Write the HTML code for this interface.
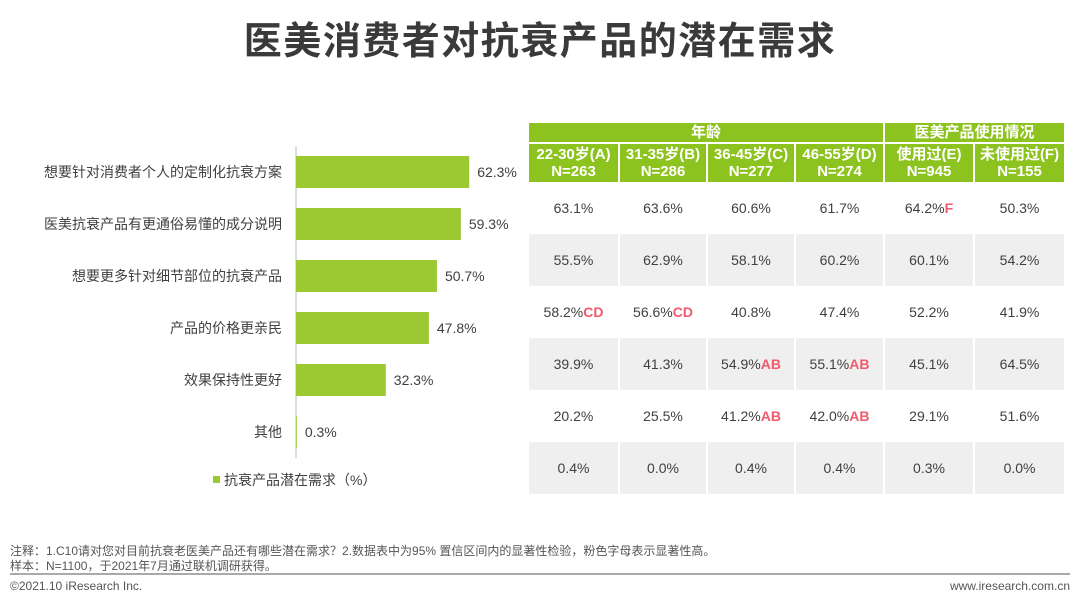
<!DOCTYPE html>
<html><head><meta charset="utf-8"><style>
body{margin:0;width:1080px;height:608px;background:#fff;font-family:"Liberation Sans","Noto Sans CJK SC",sans-serif;position:relative;overflow:hidden;color:#404040}
.abs{position:absolute}
#title{left:0;width:1080px;top:10px;text-align:center;font-size:38px;font-weight:bold;color:#3a3a3a;letter-spacing:1.5px}
table{position:absolute;left:529px;top:123px;border-collapse:collapse;width:535px;table-layout:fixed}
td{text-align:center;font-size:14px;color:#404040;padding:0;border-left:2px solid #fff}
td:first-child{border-left:none}
.h td{background:#8dc31f;color:#fff;font-weight:bold;font-size:15px;line-height:17px}
.r td{height:52px}
.g td{background:#efefef}
.p{color:#f05a6e;font-weight:bold}
.note{font-size:12px;color:#555;left:10px}
</style></head><body>
<div id="title" class="abs">医美消费者对抗衰产品的潜在需求</div>
<svg id="bars" class="abs" style="left:0;top:0" width="528" height="520"></svg>
<table>
<colgroup><col style="width:90px"><col style="width:88px"><col style="width:88px"><col style="width:89px"><col style="width:90px"><col style="width:90px"></colgroup>
<tr class="h"><td colspan="4" style="height:19px;border-bottom:2px solid #fff">年龄</td><td colspan="2" style="border-bottom:2px solid #fff">医美产品使用情况</td></tr>
<tr class="h"><td style="height:38px">22-30岁(A)<br>N=263</td><td>31-35岁(B)<br>N=286</td><td>36-45岁(C)<br>N=277</td><td>46-55岁(D)<br>N=274</td><td>使用过(E)<br>N=945</td><td>未使用过(F)<br>N=155</td></tr>
<tr class="r"><td>63.1%</td><td>63.6%</td><td>60.6%</td><td>61.7%</td><td>64.2%<span class="p">F</span></td><td>50.3%</td></tr>
<tr class="r g"><td>55.5%</td><td>62.9%</td><td>58.1%</td><td>60.2%</td><td>60.1%</td><td>54.2%</td></tr>
<tr class="r"><td>58.2%<span class="p">CD</span></td><td>56.6%<span class="p">CD</span></td><td>40.8%</td><td>47.4%</td><td>52.2%</td><td>41.9%</td></tr>
<tr class="r g"><td>39.9%</td><td>41.3%</td><td>54.9%<span class="p">AB</span></td><td>55.1%<span class="p">AB</span></td><td>45.1%</td><td>64.5%</td></tr>
<tr class="r"><td>20.2%</td><td>25.5%</td><td>41.2%<span class="p">AB</span></td><td>42.0%<span class="p">AB</span></td><td>29.1%</td><td>51.6%</td></tr>
<tr class="r g"><td>0.4%</td><td>0.0%</td><td>0.4%</td><td>0.4%</td><td>0.3%</td><td>0.0%</td></tr>
</table>
<div class="abs note" style="top:542px">注释：1.C10请对您对目前抗衰老医美产品还有哪些潜在需求？2.数据表中为95% 置信区间内的显著性检验，粉色字母表示显著性高。</div>
<div class="abs note" style="top:557px">样本：N=1100，于2021年7月通过联机调研获得。</div>
<div class="abs" style="left:10px;top:573px;width:1060px;height:2px;background:#aaa"></div>
<div class="abs note" style="top:579px">©2021.10 iResearch Inc.</div>
<div class="abs note" style="top:579px;left:auto;right:10px">www.iresearch.com.cn</div>
<script>
const categories=["想要针对消费者个人的定制化抗衰方案","医美抗衰产品有更通俗易懂的成分说明","想要更多针对细节部位的抗衰产品","产品的价格更亲民","效果保持性更好","其他"];
const values=[62.3,59.3,50.7,47.8,32.3,0.3];
const NS="http://www.w3.org/2000/svg";
const svg=document.getElementById('bars');
const x0=296,k=2.78;
const xs=v=>x0+v*k;
const ys=i=>172+i*52;
function mk(t,a){const e=document.createElementNS(NS,t);for(const n in a)e.setAttribute(n,a[n]);svg.appendChild(e);return e;}
const ax=mk('line',{x1:x0,x2:x0,y1:146,y2:458,stroke:'#bbb','stroke-width':1});


values.forEach((v,i)=>{
 const r=mk('rect',{x:x0,y:ys(i)-16,width:xs(v)-x0,height:32,fill:'#9ac932'});
 
 
 const l=mk('text',{x:xs(v)+8,y:ys(i)+5,'font-size':14,fill:'#404040'});l.textContent=v.toFixed(1)+'%';
 
 
 const c=mk('text',{x:x0-14,y:ys(i)+5,'font-size':14,fill:'#404040','text-anchor':'end'});c.textContent=categories[i];
 
 
});
const ls=mk('rect',{x:213,y:476,width:7,height:7,fill:'#9ac932'});


const lt=mk('text',{x:224,y:485,'font-size':14,fill:'#404040'});lt.textContent='抗衰产品潜在需求（%）';


</script>
</body></html>
